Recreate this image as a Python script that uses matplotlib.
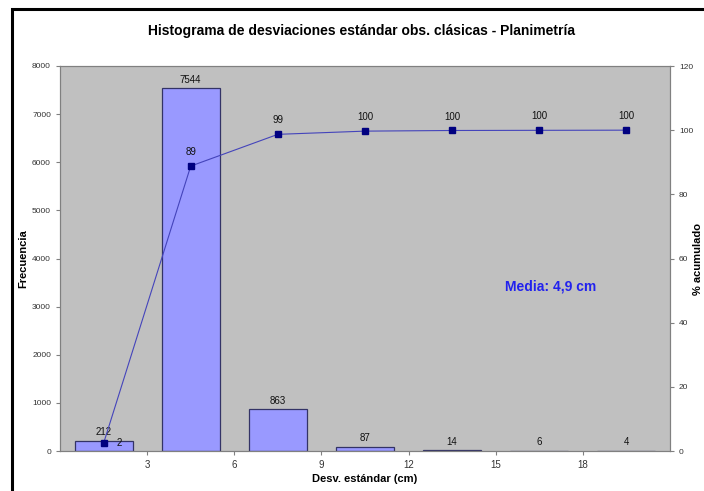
import numpy as np
import matplotlib
matplotlib.use("Agg")
import matplotlib.pyplot as plt
from matplotlib.patches import Rectangle

plt.rcParams['font.family'] = ['Liberation Sans', 'DejaVu Sans']

# data
bin_centers = [1.5, 4.5, 7.5, 10.5, 13.5, 16.5, 19.5]
frecuencia = [212, 7544, 863, 87, 14, 6, 4]
acumulado = [2.4, 88.8, 98.7, 99.7, 99.9, 99.95, 100.0]
acum_labels = ["2", "89", "99", "100", "100", "100", "100"]
x_ticks = [3, 6, 9, 12, 15, 18]
y_ticks = [0, 1000, 2000, 3000, 4000, 5000, 6000, 7000, 8000]
y2_ticks = [0, 20, 40, 60, 80, 100, 120]

fig = plt.figure(figsize=(7.04, 4.91), dpi=100)
fig.patch.set_facecolor("white")

# outer frame (cut off at right/bottom as in the original)
fig.patches.append(Rectangle((12 / 704, -0.1), 2.0, 1.1 - 9 / 491, transform=fig.transFigure,
                             fill=False, edgecolor="black", linewidth=2.2, zorder=0))

ax = fig.add_axes([60 / 704, 40 / 491, 610 / 704, 385 / 491])
ax.set_facecolor("#c0c0c0")
ax.bar(bin_centers, frecuencia, width=2, color="#9999ff", edgecolor="#333366",
       linewidth=0.9, zorder=2)
for xc, f in zip(bin_centers, frecuencia):
    ax.text(xc, f + 70, str(f), ha="center", va="bottom", fontsize=7, color="#111111")

ax.set_xlim(0, 21)
ax.set_ylim(0, 8000)
ax.set_xticks(x_ticks)
ax.set_yticks(y_ticks)
ax.tick_params(axis="both", direction="out", length=3, color="#808080",
               labelsize=6, labelcolor="#333333", width=0.8)
ax.tick_params(axis="x", labelsize=7)
for s in ax.spines.values():
    s.set_color("#808080")
ax.set_xlabel("Desv. estándar (cm)", fontsize=8, fontweight="bold", labelpad=3)
ax.set_ylabel("Frecuencia", fontsize=8, fontweight="bold")
ax.yaxis.set_label_coords(-0.052, 0.5)

ax2 = ax.twinx()
ax2.plot(bin_centers, acumulado, color="#4444bb", linewidth=0.8, marker="s",
         markersize=5, markerfacecolor="#000080", markeredgecolor="#000080", zorder=3)
for i, (xc, p, lab) in enumerate(zip(bin_centers, acumulado, acum_labels)):
    if i == 0:
        ax2.text(xc + 0.45, p, lab, ha="left", va="center", fontsize=7, color="#111111")
    else:
        ax2.text(xc, p + 2.8, lab, ha="center", va="bottom", fontsize=7, color="#111111")
ax2.set_ylim(0, 120)
ax2.set_yticks(y2_ticks)
ax2.tick_params(axis="y", direction="out", length=3, color="#808080",
                labelsize=6, labelcolor="#333333", width=0.8)
for s in ax2.spines.values():
    s.set_color("#808080")
ax2.set_ylabel("% acumulado", fontsize=8, fontweight="bold", rotation=90)
ax2.yaxis.set_label_coords(1.038, 0.5)

ax2.text(16.9, 51.2, "Media: 4,9 cm", ha="center", va="center", fontsize=10,
         fontweight="bold", color="#2222ee")

fig.text(362 / 704, 1 - 31 / 491,
         "Histograma de desviaciones estándar obs. clásicas - Planimetría",
         ha="center", va="center", fontsize=10, fontweight="bold")

fig.savefig("out.png", dpi=100)
